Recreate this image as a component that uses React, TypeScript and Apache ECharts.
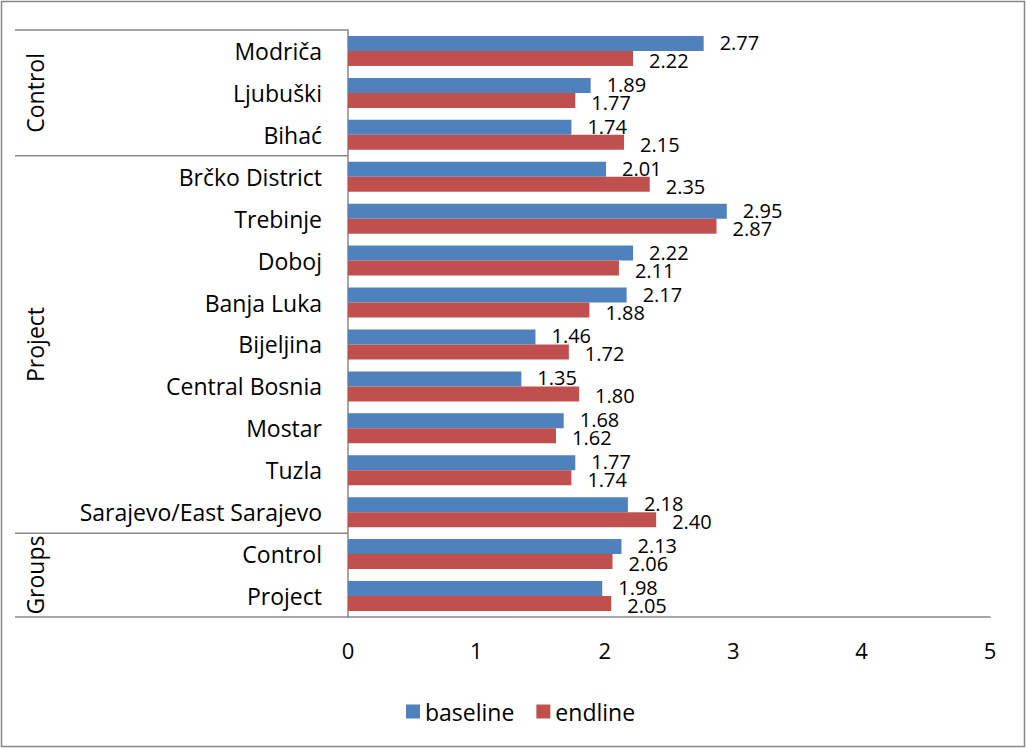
import React, { useEffect, useRef } from "react";
import * as echarts from "echarts";

const categories = [
  "Modriča",
  "Ljubuški",
  "Bihać",
  "Brčko District",
  "Trebinje",
  "Doboj",
  "Banja Luka",
  "Bijeljina",
  "Central Bosnia",
  "Mostar",
  "Tuzla",
  "Sarajevo/East Sarajevo",
  "Control",
  "Project",
];
const baseline = [2.77, 1.89, 1.74, 2.01, 2.95, 2.22, 2.17, 1.46, 1.35, 1.68, 1.77, 2.18, 2.13, 1.98];
const endline = [2.22, 1.77, 2.15, 2.35, 2.87, 2.11, 1.88, 1.72, 1.8, 1.62, 1.74, 2.4, 2.06, 2.05];
const groups = [
  { name: "Control", from: 0, to: 2 },
  { name: "Project", from: 3, to: 11 },
  { name: "Groups", from: 12, to: 13 },
];
const xTicks = { min: 0, max: 5, interval: 1 };

const FONT = "'Open Sans', 'Noto Sans', sans-serif";
const AXIS_COLOR = "#888888";

export default function App() {
  const ref = useRef<HTMLDivElement>(null);
  useEffect(() => {
    document.body.style.margin = "0";
    const chart = echarts.init(ref.current!, null, { renderer: "svg" });
    const labelBase = {
      show: true,
      position: "right",
      distance: 16,
      fontSize: 20,
      lineHeight: 16,
      color: "#000",
      fontFamily: FONT,
      formatter: (p: any) => p.value.toFixed(2),
    };
    const option: any = {
      animation: false,
      backgroundColor: "#ffffff",
      textStyle: { fontFamily: FONT },
      grid: { left: 348, right: 37, top: 30, bottom: 132, containLabel: false },
      legend: {
        left: 401,
        top: 695,
        icon: "rect",
        itemWidth: 14,
        itemHeight: 14,
        itemGap: 22,
        textStyle: { fontSize: 23, color: "#000", fontFamily: FONT },
        data: ["baseline", "endline"],
      },
      xAxis: {
        type: "value",
        min: xTicks.min,
        max: xTicks.max,
        interval: xTicks.interval,
        splitLine: { show: false },
        axisTick: { show: false },
        axisLine: { show: true, lineStyle: { color: AXIS_COLOR, width: 1.5 } },
        axisLabel: { fontSize: 22, color: "#000", margin: 22, fontFamily: FONT },
      },
      yAxis: {
        type: "category",
        data: categories,
        inverse: true,
        axisTick: { show: false },
        axisLine: { show: true, lineStyle: { color: AXIS_COLOR, width: 1.5 } },
        axisLabel: { fontSize: 23, color: "#000", margin: 26, fontFamily: FONT },
      },
      series: [
        {
          name: "baseline",
          type: "bar",
          data: baseline,
          barWidth: 15,
          barGap: "0%",
          itemStyle: { color: "#4F81BD" },
          label: { ...labelBase, offset: [0, -1] },
        },
        {
          name: "endline",
          type: "bar",
          data: endline,
          barWidth: 15,
          barGap: "0%",
          itemStyle: { color: "#C0504D" },
          label: { ...labelBase, offset: [0, 2] },
        },
      ],
    };
    chart.setOption(option);

    // multi-level category decorations
    const y0 = chart.convertToPixel({ yAxisIndex: 0 }, categories[0]) as number;
    const y1 = chart.convertToPixel({ yAxisIndex: 0 }, categories[1]) as number;
    const band = y1 - y0;
    const axisX = chart.convertToPixel({ xAxisIndex: 0 }, 0) as number;
    const lineLeft = 15;
    const graphics: any[] = [
      {
        type: "rect",
        shape: { x: 1.5, y: 1.5, width: 1023, height: 745 },
        style: { fill: "none", stroke: AXIS_COLOR, lineWidth: 1.5 },
        silent: true,
      },
    ];
    const boundaries = new Set<number>();
    groups.forEach((g) => {
      boundaries.add(g.from);
      boundaries.add(g.to + 1);
      const top = y0 + (g.from - 0.5) * band;
      const bot = y0 + (g.to + 0.5) * band;
      graphics.push({
        type: "text",
        x: 35,
        y: (top + bot) / 2,
        rotation: Math.PI / 2,
        style: {
          text: g.name,
          fontSize: 23,
          fontFamily: FONT,
          fill: "#000",
          align: "center",
          verticalAlign: "middle",
        },
        silent: true,
      });
    });
    boundaries.forEach((b) => {
      const y = y0 + (b - 0.5) * band;
      graphics.push({
        type: "line",
        shape: { x1: lineLeft, y1: y, x2: axisX, y2: y },
        style: { stroke: AXIS_COLOR, lineWidth: 1.5 },
        silent: true,
      });
    });
    chart.setOption({ graphic: graphics });

    return () => chart.dispose();
  }, []);
  return <div ref={ref} style={{ width: 1027, height: 749 }} />;
}
